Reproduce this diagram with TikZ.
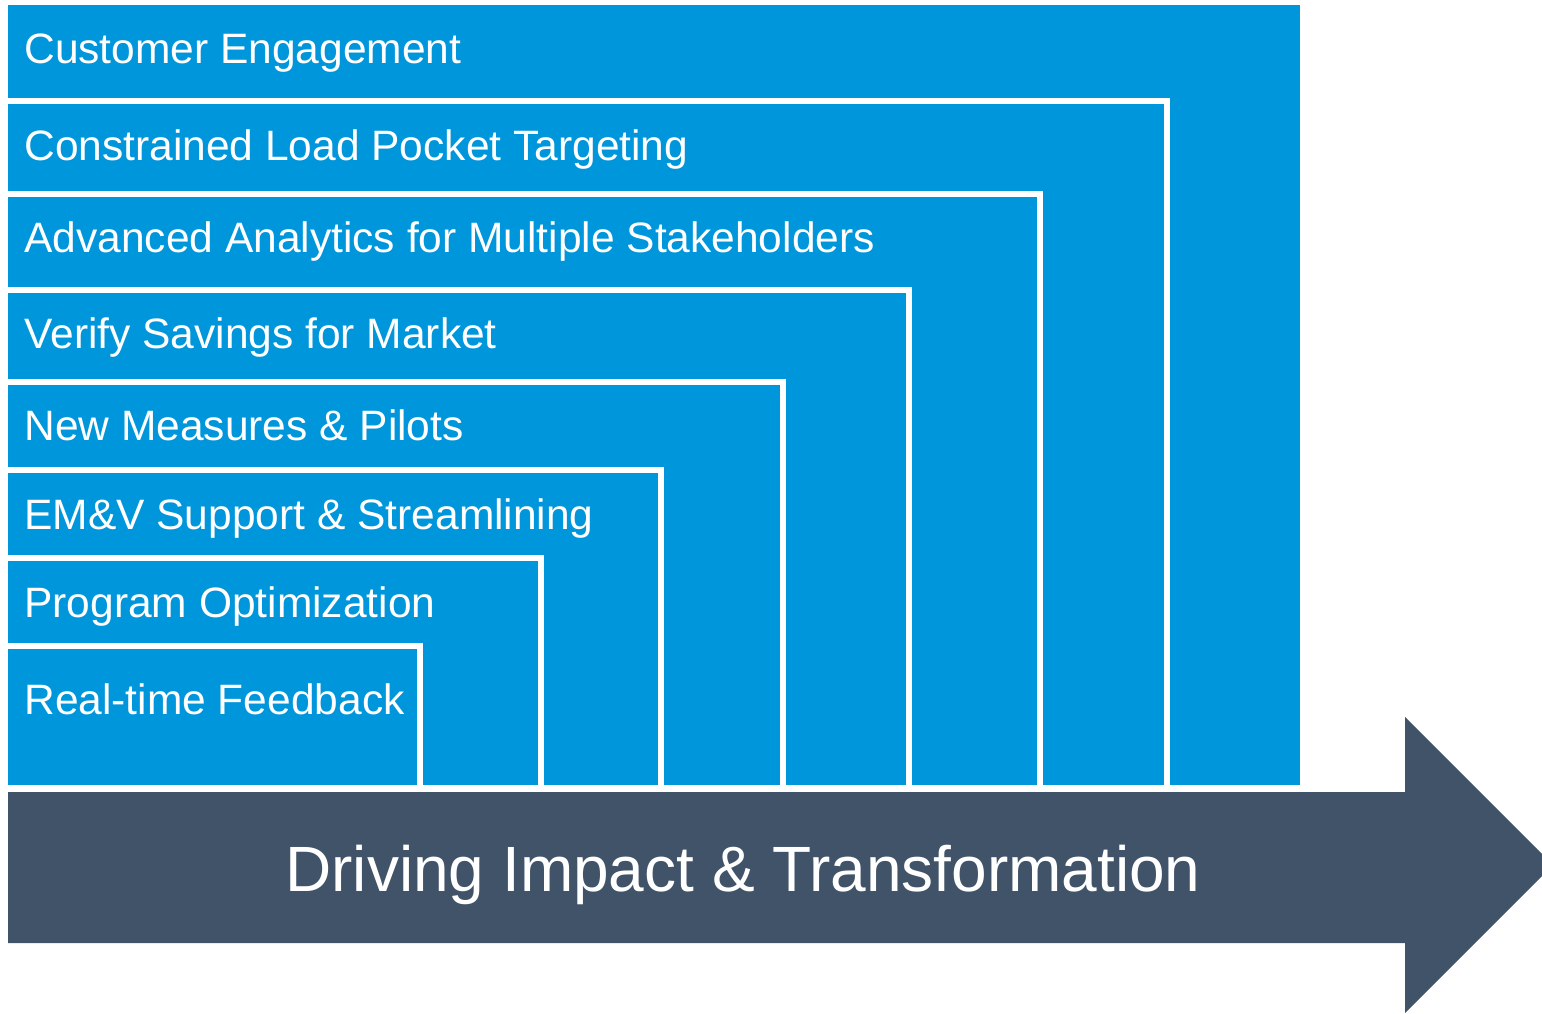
\documentclass[tikz,border=0pt]{standalone}
\usepackage{fontspec}
\setmainfont{Liberation Sans}
\definecolor{barblue}{HTML}{0096DB}
\definecolor{arrowdark}{HTML}{415369}
\begin{document}
\begin{tikzpicture}[x=0.5pt,y=-0.5pt,
  tierfill/.style={fill=barblue},
  whiteline/.style={draw=white,line width=3pt},
  tiertext/.style={anchor=base west,inner sep=0pt,text=white,font=\fontsize{21.25}{25}\selectfont},
  arrowtext/.style={anchor=base,inner sep=0pt,text=white,font=\fontsize{32}{38}\selectfont}]
\useasboundingbox (0,0) rectangle (1542,1013);
\clip (0,0) rectangle (1542,1013);
% outermost tier
\fill[tierfill] (8,5) rectangle (1300,785);
\node[tiertext] (t1) at (24,63) {Customer Engagement};
% nested tiers
\foreach \top/\right/\base/\txt/\nm in {
  101/1167/160/{Constrained Load Pocket Targeting}/t2,
  194/1040/252/{Advanced Analytics for Multiple Stakeholders}/t3,
  290/909/348/{Verify Savings for Market}/t4,
  382/783/440/{New Measures \& Pilots}/t5,
  470/661/529/{EM\&V Support \& Streamlining}/t6,
  558/541/617/{Program Optimization}/t7,
  646/419.5/714/{Real-time Feedback}/t8}{
  \fill[tierfill] (8,\top) rectangle (\right,785);
  \draw[whiteline] (8,\top) -| (\right,785);
  \node[tiertext] (\nm) at (24,\base) {\txt};
}
% arrow
\fill[arrowdark] (8,792) -- (1405,792) -- (1405,717) -- (1553,865)
  -- (1405,1013) -- (1405,943) -- (8,943) -- cycle;
\node[arrowtext] (arrow) at (743,891) {Driving Impact \& Transformation};
\end{tikzpicture}
\end{document}
